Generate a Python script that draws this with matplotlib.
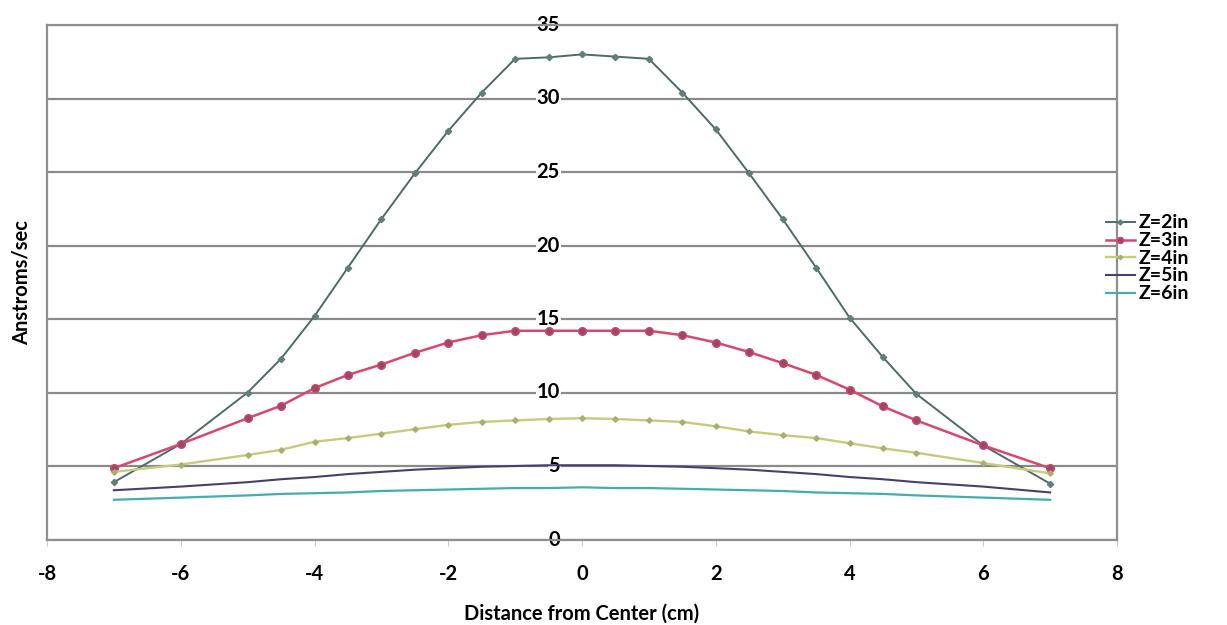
import matplotlib
matplotlib.use("Agg")
import matplotlib.pyplot as plt
from matplotlib.lines import Line2D

plt.rcParams['font.family'] = ['Lato', 'DejaVu Sans']
plt.rcParams['font.weight'] = 'bold'
plt.rcParams['axes.unicode_minus'] = False

# Deposition rate vs. radial position for several source heights
distance_cm = [-7, -6, -5, -4.5, -4, -3.5, -3, -2.5, -2, -1.5, -1, -0.5, 0,
               0.5, 1, 1.5, 2, 2.5, 3, 3.5, 4, 4.5, 5, 6, 7]

z2in = [3.9, 6.5, 10.0, 12.3, 15.2, 18.5, 21.8, 24.9, 27.8, 30.4, 32.7, 32.8, 33.0,
        32.85, 32.7, 30.4, 27.9, 24.9, 21.8, 18.5, 15.1, 12.4, 9.9, 6.4, 3.8]
z3in = [4.85, 6.5, 8.25, 9.1, 10.3, 11.2, 11.9, 12.7, 13.4, 13.9, 14.2, 14.2, 14.2,
        14.2, 14.2, 13.9, 13.4, 12.75, 12.0, 11.2, 10.2, 9.05, 8.1, 6.4, 4.85]
z4in = [4.6, 5.1, 5.75, 6.1, 6.65, 6.9, 7.2, 7.5, 7.8, 8.0, 8.1, 8.2, 8.25,
        8.2, 8.1, 8.0, 7.7, 7.35, 7.1, 6.9, 6.55, 6.2, 5.9, 5.2, 4.5]
z5in = [3.35, 3.6, 3.9, 4.1, 4.25, 4.45, 4.6, 4.75, 4.85, 4.95, 5.0, 5.05, 5.05,
        5.05, 5.0, 4.95, 4.85, 4.75, 4.6, 4.45, 4.25, 4.1, 3.9, 3.6, 3.2]
z6in = [2.7, 2.85, 3.0, 3.1, 3.15, 3.2, 3.3, 3.35, 3.4, 3.45, 3.5, 3.5, 3.55,
        3.5, 3.5, 3.45, 3.4, 3.35, 3.3, 3.2, 3.15, 3.1, 3.0, 2.85, 2.7]

series_labels = ['Z=2in', 'Z=3in', 'Z=4in', 'Z=5in', 'Z=6in']
x_ticks = [-8, -6, -4, -2, 0, 2, 4, 6, 8]
y_ticks = [0, 5, 10, 15, 20, 25, 30, 35]

FS = 14.5

styles = [
    dict(color='#4d6b69', lw=1.4, marker='D', ms=3.2, mfc='#5f7f7c', mec='#5f7f7c'),
    dict(color='#d8486c', lw=1.8, marker='o', ms=5.5, mfc='#a04563', mec='#c84a6a'),
    dict(color='#c6cb7e', lw=1.7, marker='D', ms=2.8, mfc='#aab06c', mec='#aab06c'),
    dict(color='#4a3e6e', lw=1.5, marker=None),
    dict(color='#45acb0', lw=1.6, marker=None),
]

fig = plt.figure(figsize=(12.27, 6.25), dpi=100)
ax = fig.add_axes([47 / 1227, 1 - 539.5 / 625, (1117 - 47) / 1227, (539.5 - 25) / 625])

for ys, lab, st in zip([z2in, z3in, z4in, z5in, z6in], series_labels, styles):
    ax.plot(distance_cm, ys, label=lab, zorder=3, **st)

ax.set_xlim(-8, 8)
ax.set_ylim(0, 35)
ax.set_xticks(x_ticks)
ax.set_yticks(y_ticks)
ax.yaxis.grid(True, color='#8a8a8a', lw=1.6)
ax.set_axisbelow(True)

for sp in ax.spines.values():
    sp.set_color('#8f8f8f')
    sp.set_linewidth(1.6)

ax.tick_params(axis='x', direction='out', length=4, color='#cccccc',
               labelsize=FS, pad=14)
ax.tick_params(axis='y', length=0, labelleft=False)

# y tick labels sit beside the vertical axis at x = 0
for v in y_ticks:
    ax.text(-0.33, v, str(v), ha='right', va='center', fontsize=FS,
            fontweight='bold', zorder=2,
            bbox=dict(facecolor='white', edgecolor='none', pad=0.6))

ax.set_xlabel('Distance from Center (cm)', fontsize=FS, fontweight='bold', labelpad=14)
ax.set_ylabel('Anstroms/sec', fontsize=FS, fontweight='bold', labelpad=11)

handles = [Line2D([], [], label=lab, **st) for lab, st in zip(series_labels, styles)]
fig.legend(handles=handles, loc='center left',
           bbox_to_anchor=(1096 / 1227, 1 - 258 / 625), frameon=False,
           fontsize=14, handlelength=1.5, handletextpad=0.2, handleheight=0.5,
           labelspacing=0.04, markerscale=0.8, borderpad=0)

fig.savefig('out.png', dpi=100, facecolor='white')
